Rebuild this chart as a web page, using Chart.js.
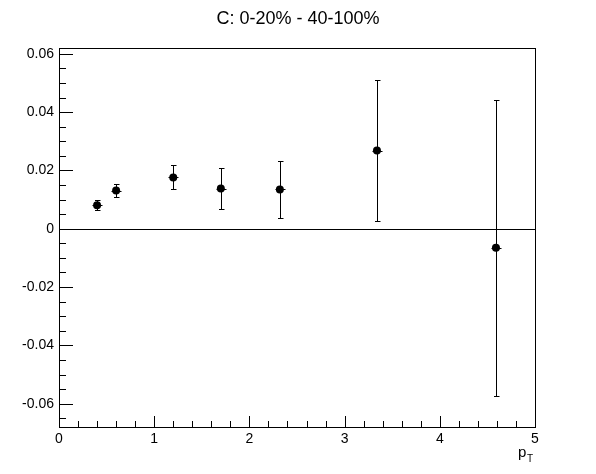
<!DOCTYPE html>
<html>
<head>
<meta charset="utf-8">
<script src="https://cdn.jsdelivr.net/npm/chart.js@4/dist/chart.umd.min.js"></script>
<style>
  html, body { margin: 0; padding: 0; background: #fff; }
  #wrap { width: 596px; height: 474px; }
</style>
</head>
<body>
<div id="wrap"><canvas id="c" width="596" height="474"></canvas></div>
<script>
// Datos
const ptValues = [0.4, 0.6, 1.2, 1.7, 2.32, 3.34, 4.59];
const cValues = [0.0081, 0.0131, 0.0176, 0.0138, 0.0135, 0.0268, -0.0065];
const cErrors = [0.0018, 0.0022, 0.0041, 0.0070, 0.0099, 0.0243, 0.0507];
const xTicks = [0, 1, 2, 3, 4, 5];
const yTicks = [-0.06, -0.04, -0.02, 0, 0.02, 0.04, 0.06];

const titleText = 'C: 0-20% - 40-100%';
const FONT = 'Liberation Sans, Arial, Helvetica, sans-serif';

// Marco, marcas internas, linea del cero y barras de error (estilo ROOT)
const rootStyle = {
    id: 'rootStyle',
    beforeDatasetsDraw(chart) {
        const { ctx, chartArea: a, scales: { x, y } } = chart;
        ctx.save();
        ctx.strokeStyle = '#000';
        ctx.lineWidth = 1;

        // linea del cero
        const y0 = Math.round(y.getPixelForValue(0)) + 0.5;
        ctx.beginPath();
        ctx.moveTo(a.left, y0);
        ctx.lineTo(a.right, y0);
        ctx.stroke();

        // barras de error
        ptValues.forEach((pt, i) => {
            const px = Math.round(x.getPixelForValue(pt)) + 0.5;
            const py = y.getPixelForValue(cValues[i]);
            const top = Math.round(y.getPixelForValue(cValues[i] + cErrors[i])) + 0.5;
            const bot = Math.round(y.getPixelForValue(cValues[i] - cErrors[i])) + 0.5;
            ctx.beginPath();
            ctx.moveTo(px, top);
            ctx.lineTo(px, bot);
            ctx.moveTo(px - 2.5, top);
            ctx.lineTo(px + 3, top);
            ctx.moveTo(px - 2.5, bot);
            ctx.lineTo(px + 3, bot);
            ctx.moveTo(px - 5, Math.round(py) + 0.5);
            ctx.lineTo(px + 5, Math.round(py) + 0.5);
            ctx.stroke();
        });
        ctx.restore();
    },
    afterDraw(chart) {
        const { ctx, chartArea: a, scales: { x, y } } = chart;
        ctx.save();
        ctx.strokeStyle = '#000';
        ctx.lineWidth = 1;

        // marco
        ctx.strokeRect(Math.round(a.left) + 0.5, Math.round(a.top) + 0.5,
            Math.round(a.right - a.left), Math.round(a.bottom - a.top));

        ctx.beginPath();
        // marcas eje y (mayores cada 0.02, menores cada 0.005)
        for (let k = -14; k <= 12; k++) {
            const v = k * 0.005;
            const py = Math.round(y.getPixelForValue(v)) + 0.5;
            if (py < a.top || py > a.bottom) continue;
            const len = (k % 4 === 0) ? 14 : 7;
            ctx.moveTo(a.left, py);
            ctx.lineTo(a.left + len, py);
        }
        // marcas eje x (mayores cada 1, menores cada 0.2)
        for (let k = 0; k <= 25; k++) {
            const v = k * 0.2;
            const px = Math.round(x.getPixelForValue(v)) + 0.5;
            const len = (k % 5 === 0) ? 11 : 6;
            ctx.moveTo(px, a.bottom);
            ctx.lineTo(px, a.bottom - len);
        }
        ctx.stroke();

        // titulo
        ctx.fillStyle = '#000';
        ctx.font = '18px ' + FONT;
        ctx.textAlign = 'center';
        ctx.textBaseline = 'alphabetic';
        ctx.fillText(titleText, 298, 24);

        // etiqueta eje x: p_T
        ctx.font = '15px ' + FONT;
        ctx.textAlign = 'left';
        ctx.fillText('p', 518, 457);
        ctx.font = '10px ' + FONT;
        ctx.fillText('T', 527, 462);
        ctx.restore();
    }
};

const chart = new Chart(document.getElementById('c'), {
    type: 'scatter',
    data: {
        datasets: [{
            data: ptValues.map((pt, i) => ({ x: pt, y: cValues[i] })),
            backgroundColor: '#000',
            borderColor: '#000',
            pointRadius: 4,
            pointHoverRadius: 4,
            borderWidth: 0
        }]
    },
    options: {
        responsive: false,
        animation: false,
        events: [],
        layout: { padding: { top: 48, right: 61, left: 0, bottom: 0 } },
        plugins: {
            legend: { display: false },
            tooltip: { enabled: false },
            title: { display: false }
        },
        scales: {
            x: {
                type: 'linear',
                min: 0,
                max: 5,
                afterBuildTicks: s => { s.ticks = xTicks.map(v => ({ value: v })); },
                afterFit: s => { s.height = 47; },
                grid: { display: false, drawTicks: false },
                border: { display: false },
                ticks: {
                    color: '#000',
                    padding: 4,
                    maxRotation: 0,
                    font: { family: FONT, size: 14 },
                    callback: v => String(v)
                }
            },
            y: {
                type: 'linear',
                min: -0.068,
                max: 0.062,
                afterBuildTicks: s => { s.ticks = yTicks.map(v => ({ value: v })); },
                afterFit: s => { s.width = 59; },
                grid: { display: false, drawTicks: false },
                border: { display: false },
                ticks: {
                    color: '#000',
                    padding: 5,
                    font: { family: FONT, size: 14 },
                    callback: v => (Math.abs(v) < 1e-9 ? '0' : String(+v.toFixed(2)))
                }
            }
        }
    },
    plugins: [rootStyle]
});
</script>
</body>
</html>
